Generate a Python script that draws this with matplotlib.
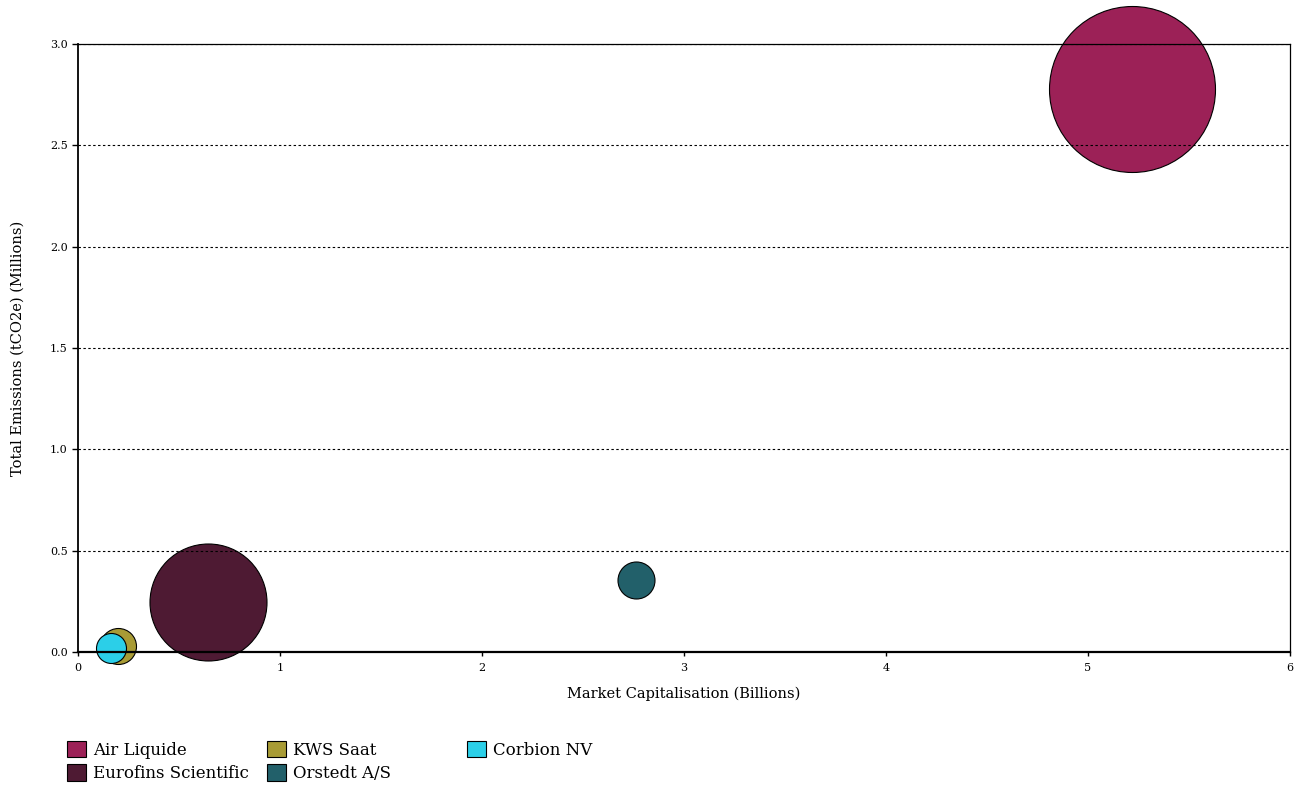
import numpy as np
import matplotlib.pyplot as plt
from matplotlib.patches import Patch

# data
companies = ['Air Liquide', 'Eurofins Scientific', 'KWS Saat', 'Orstedt A/S', 'Corbion NV']
market_cap = [5.22, 0.645, 0.20, 2.76, 0.165]        # billions
emissions = [2.78, 0.245, 0.03, 0.355, 0.02]         # millions tCO2e
bubble_value = [166, 117, 36, 37, 30]                 # bubble diameter measure
colors = ['#9C2157', '#4E1A33', '#A89B35', '#22606A', '#2BCFE8']

plt.rcParams['font.family'] = ['DejaVu Serif']

fig = plt.figure(figsize=(12.95, 7.85), dpi=100)
ax = fig.add_axes([78 / 1295, 1 - 652 / 785, (1290 - 78) / 1295, (652 - 44) / 785])

# scatter size in points^2 (1 px = 0.72 pt at 100 dpi)
sizes = [(d * 0.72) ** 2 for d in bubble_value]
for c, x, y, s, col in zip(companies, market_cap, emissions, sizes, colors):
    ax.scatter(x, y, s=s, color=col, edgecolors='black', linewidths=0.8,
               zorder=1, clip_on=False)

ax.set_xlim(0, 6)
ax.set_ylim(0, 3)
ax.set_xticks(range(0, 7))
ax.set_yticks(np.arange(0, 3.01, 0.5))
ax.set_yticklabels([f'{v:.1f}' for v in np.arange(0, 3.01, 0.5)])
ax.tick_params(labelsize=8, length=4, width=1, color='black')
ax.tick_params(axis='x', length=3, pad=5)

ax.yaxis.grid(True, linestyle=(0, (2.2, 2.2)), color='black', linewidth=0.8)
ax.set_axisbelow(False)

ax.spines['bottom'].set_linewidth(1.6)
ax.spines['left'].set_linewidth(1.3)
ax.spines['top'].set_linewidth(0.9)
ax.spines['right'].set_linewidth(0.9)

ax.set_xlabel('Market Capitalisation (Billions)', fontsize=10.5, labelpad=10)
ax.set_ylabel('Total Emissions (tCO2e) (Millions)', fontsize=10.5, labelpad=18)

# legend in three fixed-width columns
columns = [[0, 1], [2, 3], [4]]
for k, col_idx in enumerate(columns):
    handles = [Patch(facecolor=colors[i], edgecolor='black', linewidth=0.8,
                     label=companies[i]) for i in col_idx]
    fig.legend(handles=handles, loc='upper left',
               bbox_to_anchor=((55 + 200 * k) / 1295, 1 - 729 / 785),
               frameon=False, fontsize=12, handlelength=1.15, handleheight=1.15,
               handletextpad=0.45, labelspacing=0.35, borderpad=0.2)

fig.savefig('out.png', dpi=100)
